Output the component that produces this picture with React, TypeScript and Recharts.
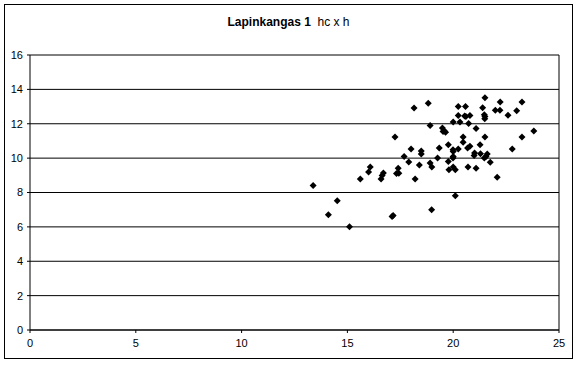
import React from "react";
import { ScatterChart, Scatter, XAxis, YAxis, CartesianGrid, ReferenceLine } from "recharts";

const hValues = [
  13.38, 14.52, 14.1, 15.1, 15.61, 16.0, 16.08, 16.59, 16.64, 16.7,
  17.11, 17.16, 17.25, 17.32, 17.4, 17.43, 17.68, 17.9, 18.01, 18.15,
  18.2, 18.4, 18.49, 18.49, 18.82, 18.91, 18.91, 18.99, 18.98, 19.26,
  19.34, 19.49, 19.57, 19.64, 19.52, 19.77, 19.77, 19.8, 20.0, 19.99,
  20.0, 20.0, 19.99, 20.0, 20.1, 20.1, 20.24, 20.24, 20.32, 20.24,
  20.47, 20.47, 20.58, 20.54, 20.6, 20.79, 20.73, 20.68, 20.79, 20.7,
  21.01, 20.99, 21.08, 21.08, 21.27, 21.29, 21.39, 21.5, 21.47, 21.5,
  21.49, 21.5, 21.47, 21.55, 21.61, 21.75, 21.99, 22.21, 22.22, 22.08,
  22.59, 22.79, 23.0, 23.25, 23.25, 23.81,
];

const hcValues = [
  8.41, 7.52, 6.71, 6.01, 8.79, 9.2, 9.49, 8.79, 8.99, 9.14,
  6.61, 6.66, 11.23, 9.1, 9.41, 9.12, 10.1, 9.78, 10.53, 12.91,
  8.79, 9.6, 10.42, 10.24, 13.2, 11.9, 9.72, 9.49, 7.0, 10.01,
  10.59, 11.75, 11.6, 11.5, 11.55, 10.78, 9.81, 9.32, 12.1, 10.49,
  10.38, 10.1, 10.01, 9.49, 9.32, 7.81, 13.0, 12.48, 12.1, 10.53,
  11.23, 10.92, 13.0, 12.45, 12.42, 12.48, 12.02, 10.59, 10.69, 9.49,
  10.3, 10.16, 11.73, 9.41, 10.78, 10.26, 12.93, 13.52, 12.52, 12.42,
  12.29, 11.23, 10.01, 10.1, 10.24, 9.76, 12.79, 12.79, 13.26, 8.89,
  12.5, 10.53, 12.75, 13.26, 11.23, 11.58,
];

const xTicks = [0, 5, 10, 15, 20, 25];
const yTicks = [0, 2, 4, 6, 8, 10, 12, 14, 16];

const data = hValues.map((h, i) => ({ h, hc: hcValues[i] }));

const FONT = "'Liberation Sans', Arial, sans-serif";

const Diamond = (props: any) => {
  const { cx, cy } = props;
  if (cx == null || cy == null) return null;
  const r = 3.5;
  return (
    <polygon
      points={`${cx},${cy - r} ${cx + r},${cy} ${cx},${cy + r} ${cx - r},${cy}`}
      fill="#000"
      stroke="none"
    />
  );
};

export default function App() {
  return (
    <div style={{ position: "absolute", left: 0, top: 0, width: 577, height: 365, background: "#fff" }}>
      <div
        style={{
          position: "absolute",
          left: 4,
          top: 4,
          width: 569,
          height: 355,
          border: "1px solid #000",
          boxSizing: "border-box",
        }}
      />
      <div
        style={{
          position: "absolute",
          left: 0,
          top: 14,
          width: 577,
          textAlign: "center",
          fontFamily: FONT,
          fontSize: 12,
          color: "#000",
          lineHeight: "16px",
        }}
      >
        <span style={{ fontWeight: "bold" }}>Lapinkangas 1</span>
        <span>&nbsp; hc x h</span>
      </div>
      <div style={{ position: "absolute", left: 0, top: 0 }}>
        <ScatterChart width={577} height={365} margin={{ top: 55, right: 18, bottom: 5, left: 4 }}>
          <CartesianGrid horizontal={true} vertical={false} stroke="#000" strokeWidth={1} />
          <XAxis
            type="number"
            dataKey="h"
            domain={[0, 25]}
            ticks={xTicks}
            interval={0}
            height={30}
            tickSize={3}
            axisLine={{ stroke: "#000" }}
            tickLine={{ stroke: "#000" }}
            tick={{ fill: "#000", fontSize: 11, fontFamily: FONT }}
            tickMargin={6}
          />
          <YAxis
            type="number"
            dataKey="hc"
            domain={[0, 16]}
            ticks={yTicks}
            interval={0}
            width={26}
            tickSize={3}
            axisLine={{ stroke: "#000" }}
            tickLine={{ stroke: "#000" }}
            tick={{ fill: "#000", fontSize: 11, fontFamily: FONT }}
            tickMargin={4}
          />
          <ReferenceLine x={25} stroke="#000" />
          <Scatter data={data} fill="#000" shape={<Diamond />} isAnimationActive={false} />
        </ScatterChart>
      </div>
    </div>
  );
}
